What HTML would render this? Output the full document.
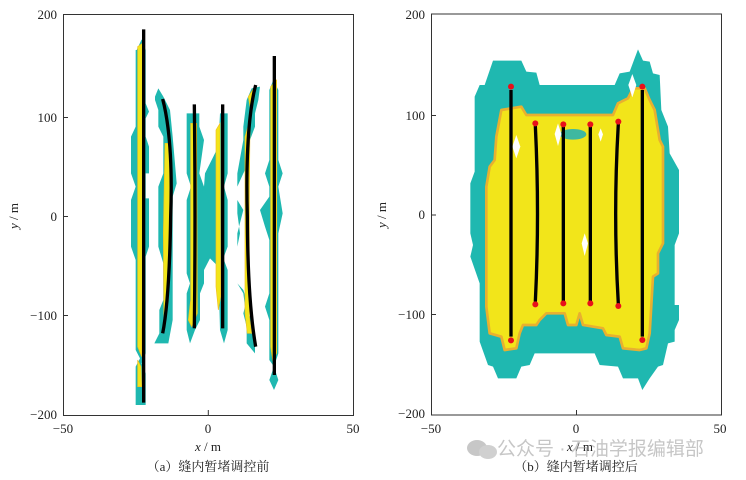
<!DOCTYPE html>
<html><head><meta charset="utf-8"><style>
body{margin:0;background:#fff;width:746px;height:480px;overflow:hidden}
svg{display:block}
text{font-family:"Liberation Serif","Noto Serif CJK SC",serif;fill:#222}
</style></head><body>
<svg width="746" height="480" viewBox="0 0 746 480" xmlns="http://www.w3.org/2000/svg">
<g transform="scale(0.33333)">
 <g fill="#1fb8b0">
  <polygon points="410,150 425,118 437,150 437,310 447,335 437,355 437,410 447,440 447,520 437,520 437,595 447,595 447,740 437,770 437,1060 425,1090 437,1120 437,1215 407,1215 407,1100 420,1075 407,1050 407,780 393,740 393,600 407,560 393,520 393,410 407,380 407,150"/>
  <polygon points="465,290 475,265 490,290 510,330 518,410 530,550 518,590 518,960 505,1030 463,1030 478,1000 478,930 490,900 490,790 475,740 475,560 490,520 490,410 475,380 475,330 465,300"/>
  <polygon points="560,340 598,340 598,380 612,420 598,520 612,560 630,620 612,560 615,520 655,440 660,340 683,340 683,520 672,560 683,600 683,740 670,775 683,810 683,990 672,1030 660,990 655,800 630,775 612,810 612,850 600,880 600,960 585,990 570,1030 560,990 560,880 570,850 560,820 560,600 573,560 560,520 560,380"/>
  <polygon points="740,300 755,265 780,260 775,300 765,340 765,380 750,420 740,460 740,500 730,520 712,560 712,600 730,630 712,700 712,850 730,880 735,920 755,960 765,1000 765,1060 740,1030 740,980 730,940 740,900 730,870 712,850 712,740 720,700 712,640 712,520 730,420 730,380"/>
  <polygon points="808,270 820,240 835,270 835,480 848,520 835,560 848,640 835,700 835,1060 822,1100 835,1140 822,1170 808,1140 822,1100 808,1080 808,960 795,920 808,880 808,720 795,680 780,630 808,590 808,560 795,520 808,480"/>
  <polygon points="612,560 630,620 655,560 672,600 660,775 630,775 600,775 600,600"/>
 </g>
 <g fill="#f2e51a" stroke="#f0c020" stroke-width="2">
  <polygon points="413,140 427,130 430,600 425,1070 413,1040 413,600"/>
  <polygon points="413,1080 423,1100 425,1160 413,1160"/>
  <polygon points="495,430 510,430 512,700 505,900 492,980 490,700"/>
  <polygon points="572,370 590,370 592,940 575,980 565,960 572,900"/>
  <polygon points="648,390 660,370 662,890 655,930 648,860"/>
  <polygon points="735,410 750,360 748,620 748,950 755,1000 742,1000 735,940"/>
  <polygon points="745,290 758,270 760,300 750,320"/>
  <polygon points="812,260 830,240 830,1060 818,1080 812,1040"/>
 </g>
 <g fill="none" stroke="#000" stroke-width="10">
  <line x1="431" y1="88" x2="431" y2="1208"/>
  <path d="M488,297 Q520,420 512,650 Q508,900 488,1000"/>
  <path d="M583,313 Q587,650 583,985"/>
  <line x1="668" y1="313" x2="668" y2="985"/>
  <path d="M767,255 Q735,380 742,650 Q743,900 767,1040"/>
  <line x1="823" y1="168" x2="823" y2="1125"/>
 </g>
</g>
<g transform="translate(373,0) scale(0.33333)">
 <polygon fill="#1fb8b0" points="360,182 445,182 460,215 490,218 500,255 725,255 740,220 770,215 795,148 810,182 830,185 840,220 860,225 865,330 885,380 890,460 918,510 918,700 905,735 905,915 918,915 918,960 905,990 905,1025 885,1030 870,1095 855,1100 830,1135 808,1170 795,1135 750,1135 735,1100 680,1095 665,1060 485,1060 470,1095 445,1100 430,1135 375,1135 360,1100 345,1095 320,1025 320,850 292,770 300,735 292,700 292,550 305,515 305,290 320,255 335,255"/>
 <polygon fill="#f2e51a" stroke="#e8b030" stroke-width="8" stroke-linejoin="round" points="385,330 445,320 460,345 720,345 735,310 765,295 780,265 815,265 830,300 845,330 860,420 870,440 870,730 855,760 855,820 840,830 830,1000 820,1045 800,1050 750,1045 740,1010 700,1005 690,985 630,975 620,940 610,975 585,975 575,940 520,940 500,960 490,975 450,975 440,1000 430,1045 395,1050 385,1010 350,1000 340,920 340,560 350,500 365,480 370,410"/>
 <ellipse cx="600" cy="403" rx="40" ry="16" fill="#3fb8a0"/>
 <g fill="#fff">
  <polygon points="430,405 442,440 430,475 418,440"/>
  <polygon points="555,370 565,402 555,438 545,402"/>
  <polygon points="635,700 645,730 635,768 626,730"/>
  <polygon points="778,222 790,255 778,292 766,255"/>
  <polygon points="683,385 690,403 683,425 676,403"/>
 </g>
 <g fill="none" stroke="#000" stroke-width="10">
  <line x1="414" y1="270" x2="414" y2="1010"/>
  <path d="M487,378 Q500,640 487,905"/>
  <line x1="571" y1="380" x2="571" y2="903"/>
  <line x1="652" y1="380" x2="652" y2="903"/>
  <path d="M736,372 Q720,640 736,912"/>
  <line x1="808" y1="270" x2="808" y2="1010"/>
 </g>
 <g fill="#e8101a">
  <circle cx="414" cy="260" r="9"/><circle cx="414" cy="1021" r="9"/>
  <circle cx="487" cy="370" r="9"/><circle cx="487" cy="913" r="9"/>
  <circle cx="571" cy="373" r="9"/><circle cx="571" cy="910" r="9"/>
  <circle cx="652" cy="373" r="9"/><circle cx="652" cy="910" r="9"/>
  <circle cx="736" cy="365" r="9"/><circle cx="736" cy="918" r="9"/>
  <circle cx="808" cy="260" r="9"/><circle cx="808" cy="1020" r="9"/>
 </g>
</g>
<g fill="none" stroke="#333" stroke-width="1">
 <rect x="63.5" y="14.5" width="290" height="401"/>
 <rect x="431.5" y="14" width="290" height="401"/>
 <line x1="208.3" y1="415" x2="208.3" y2="410"/>
 <line x1="63.5" y1="117.5" x2="68" y2="117.5"/><line x1="63.5" y1="216.5" x2="68" y2="216.5"/><line x1="63.5" y1="315.5" x2="68" y2="315.5"/>
 <line x1="576.5" y1="415" x2="576.5" y2="410"/>
 <line x1="431.5" y1="115.5" x2="436" y2="115.5"/><line x1="431.5" y1="215" x2="436" y2="215"/><line x1="431.5" y1="314.5" x2="436" y2="314.5"/>
</g>
<g font-size="13" text-anchor="end">
 <text x="57" y="19">200</text><text x="57" y="122">100</text><text x="57" y="221">0</text><text x="57" y="320">−100</text><text x="57" y="419">−200</text>
 <text x="425" y="19">200</text><text x="425" y="120">100</text><text x="425" y="219">0</text><text x="425" y="319">−100</text><text x="425" y="418">−200</text>
</g>
<g font-size="13" text-anchor="middle">
 <text x="63" y="433">−50</text><text x="208" y="433">0</text><text x="353" y="433">50</text>
 <text x="431" y="433">−50</text><text x="576" y="433">0</text><text x="720" y="433">50</text>
 <text x="208" y="451"><tspan font-style="italic">x</tspan> / m</text>
 <text x="580" y="451"><tspan font-style="italic">x</tspan> / m</text>
 <text x="208" y="471">（a）缝内暂堵调控前</text>
 <text x="576" y="471">（b）缝内暂堵调控后</text>
 <text transform="translate(18,216) rotate(-90)"><tspan font-style="italic">y</tspan> / m</text>
 <text transform="translate(386,215) rotate(-90)"><tspan font-style="italic">y</tspan> / m</text>
</g>
<g opacity="0.55">
 <ellipse cx="477" cy="448" rx="10" ry="8" fill="#9a9a9a"/>
 <ellipse cx="488" cy="452" rx="9" ry="7" fill="#aaa"/>
 <text x="497" y="455" font-size="19" style="fill:#999;font-family:'Liberation Sans','Noto Sans CJK SC',sans-serif">公众号 · 石油学报编辑部</text>
</g>
</svg>
</body></html>
